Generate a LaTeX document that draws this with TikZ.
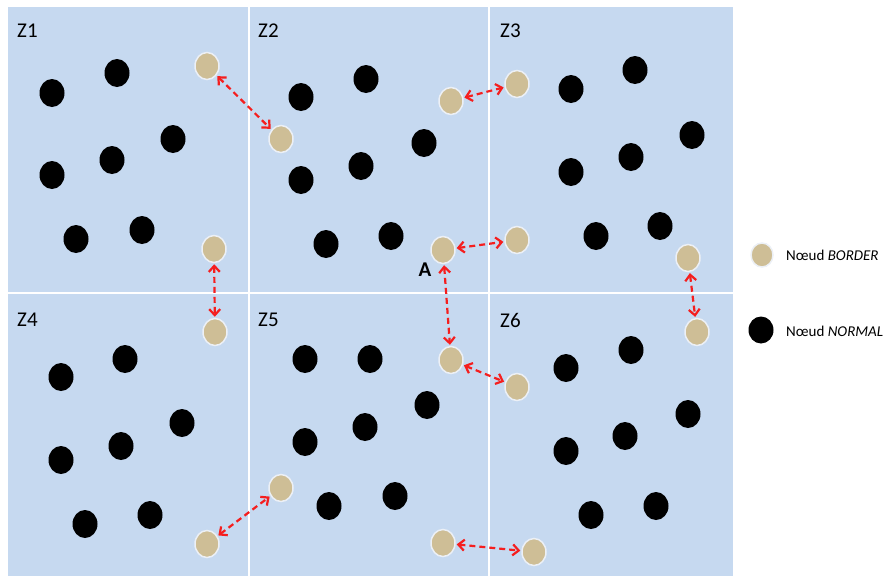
\documentclass[tikz,border=0pt]{standalone}
\usepackage{fontspec}
\setmainfont{Carlito}
\usetikzlibrary{shapes.geometric,arrows.meta}
\definecolor{zonebg}{RGB}{198,217,240}
\definecolor{bordertan}{RGB}{206,190,150}
\definecolor{halo}{RGB}{236,240,246}
\definecolor{linkred}{RGB}{245,30,30}
\tikzset{
  normalnode/.style={ellipse, fill=black, minimum width=25pt, minimum height=28pt, inner sep=0pt},
  bordernode/.style={ellipse, fill=bordertan, draw=halo, line width=1.5pt, minimum width=24pt, minimum height=27pt, inner sep=0pt},
  link/.style={draw=linkred, dash pattern=on 6pt off 4pt, line width=2.2pt,
    {Straight Barb[length=6pt,width=11pt]}-{Straight Barb[length=6pt,width=11pt]},
    shorten <=1pt, shorten >=1pt},
  zonelabel/.style={font=\fontsize{21}{24}\selectfont, anchor=west, inner sep=0pt},
  legendtext/.style={font=\fontsize{15}{18}\selectfont, anchor=west, inner sep=0pt}
}

\begin{document}
\begin{tikzpicture}[x=1pt, y=-1pt]
  \useasboundingbox (0,0) rectangle (893,576);
  % zones
  \fill[zonebg] (8,7) rectangle (733,576);
  \draw[white, line width=2pt] (249,7) -- (249,576);
  \draw[white, line width=2pt] (489,7) -- (489,576);
  \draw[white, line width=2pt] (8,293) -- (733,293);
  \node[zonelabel] (z1) at (17,31) {Z1};
  \node[zonelabel] (z2) at (258,31) {Z2};
  \node[zonelabel] (z3) at (500,31) {Z3};
  \node[zonelabel] (z4) at (17,320) {Z4};
  \node[zonelabel] (z5) at (258,320) {Z5};
  \node[zonelabel] (z6) at (500,320) {Z6};

  % normal nodes
  \foreach \x/\y [count=\i] in {52/93, 117/73, 173/139, 112/160, 52/175, 76/239, 142/230,
      301/97, 366/79, 424/143, 361/166, 301/180, 326/244, 391/236,
      571/89, 635/70, 692/135, 631/157, 571/172, 596/236, 660/226,
      61/377, 125/359, 182/423, 121/446, 61/460, 85/524, 150/515,
      305/359, 370/359, 427/405, 365/427, 305/442, 329/506, 395/496,
      566/368, 631/350, 688/414, 625/436, 566/451, 591/515, 656/506}
    \node[normalnode] (n\i) at (\x,\y) {};

  % border nodes
  \node[bordernode] (b1) at (207,66) {};
  \node[bordernode] (b2) at (214,249) {};
  \node[bordernode] (b3) at (281,139) {};
  \node[bordernode] (b4) at (451,101) {};
  \node[bordernode] (a) at (443,250) {};
  \node[bordernode] (b5) at (517,84) {};
  \node[bordernode] (b6) at (517,240) {};
  \node[bordernode] (b7) at (688,258) {};
  \node[bordernode] (b8) at (215,332) {};
  \node[bordernode] (b9) at (451,360) {};
  \node[bordernode] (b10) at (281,488) {};
  \node[bordernode] (b11) at (207,544) {};
  \node[bordernode] (b12) at (443,543) {};
  \node[bordernode] (b13) at (517,387) {};
  \node[bordernode] (b14) at (697,332) {};
  \node[bordernode] (b15) at (534,552) {};
  \node[font=\fontsize{21}{24}\selectfont\bfseries, inner sep=0pt] (alabel) at (425,270) {A};

  % links
  \foreach \p/\q in {b1/b3, b4/b5, a/b6, b2/b8, a/b9, b9/b13, b7/b14, b11/b10, b12/b15}
    \draw[link] (\p) -- (\q);

  % legend
  \node[bordernode, minimum width=22pt, minimum height=24pt] (legb) at (762,255) {};
  \node[legendtext] (legbt) at (786,255) {Nœud \textit{BORDER}};
  \node[normalnode, minimum width=25pt, minimum height=27pt] (legn) at (761,330) {};
  \node[legendtext] (legnt) at (786,331) {Nœud \textit{NORMAL}};
\end{tikzpicture}
\end{document}
